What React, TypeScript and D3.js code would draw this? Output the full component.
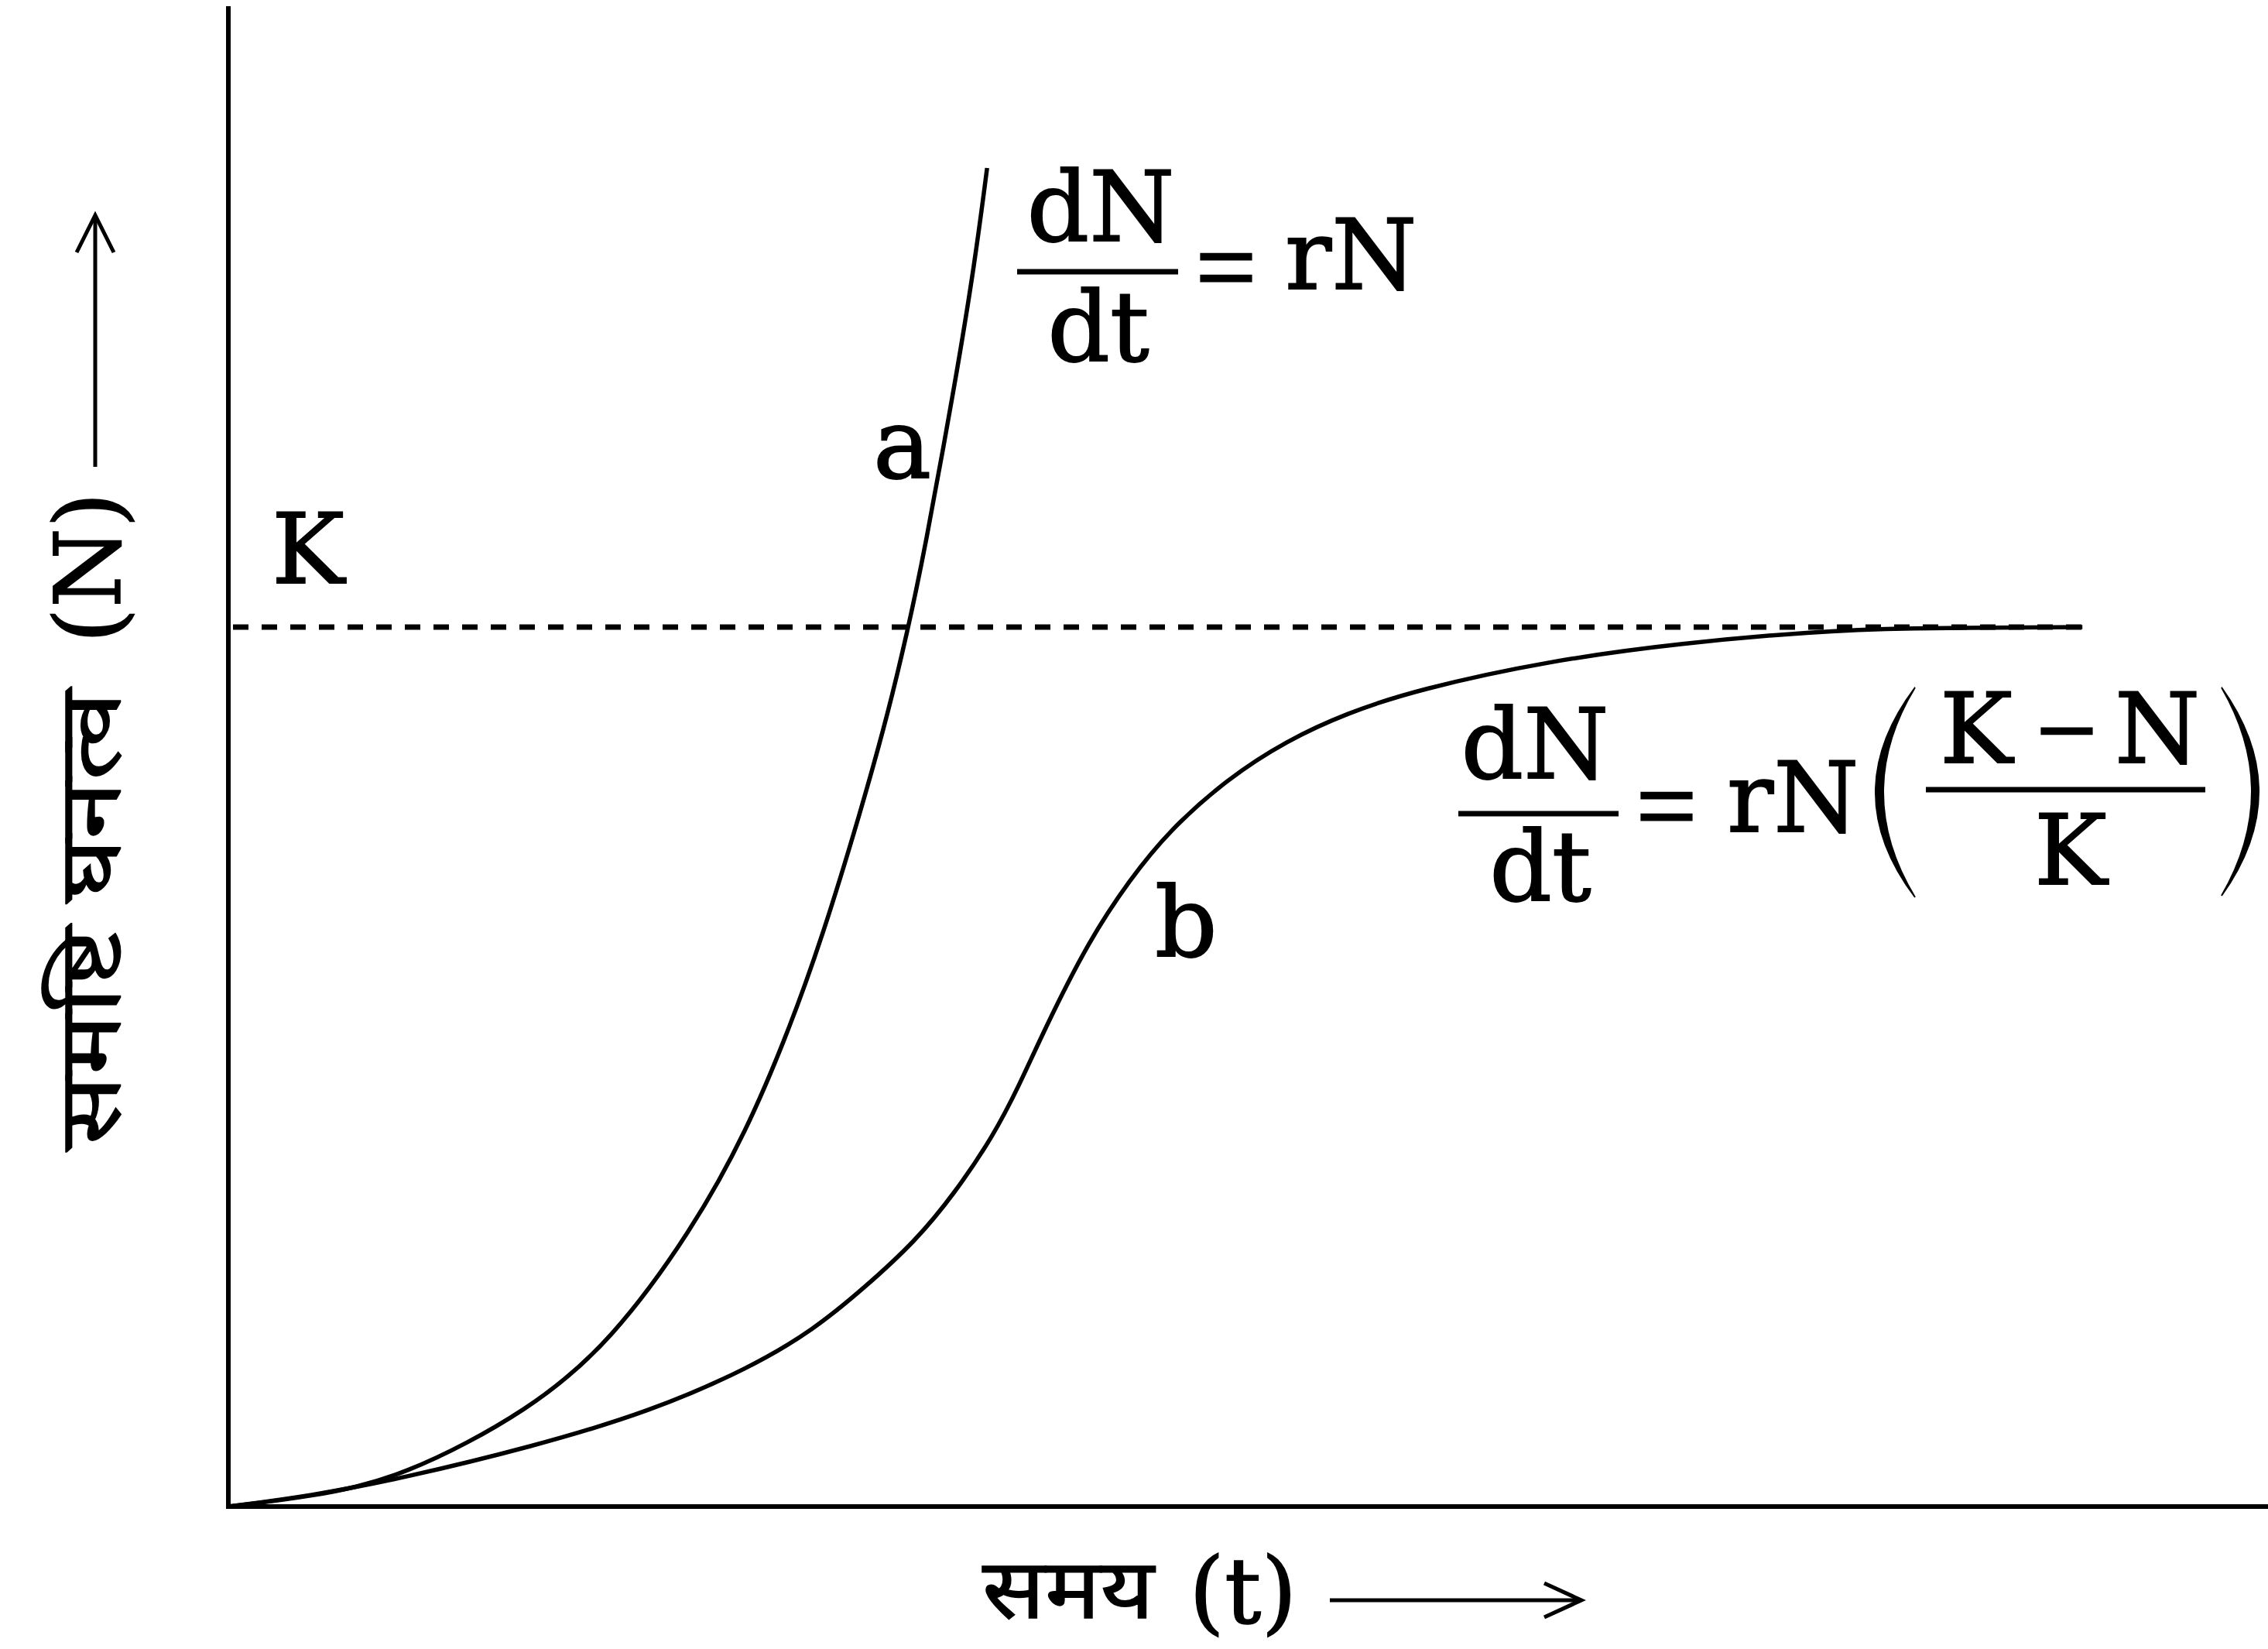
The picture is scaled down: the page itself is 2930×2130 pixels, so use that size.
import React from 'react';
import * as d3 from 'd3';

// population growth curves (t, N), N = 100 at carrying capacity K
const exponentialT = [0, 4.0, 8.5, 14.9, 18.8, 22.7, 25.4, 27.5, 29.1, 31.0, 32.4, 33.3, 34.1, 35.7, 36.6, 37.2];
const exponentialN = [0, 1.1, 3.2, 11.1, 18.9, 31.3, 42.6, 54.3, 64.6, 79.0, 90.7, 99.6, 108.2, 128.6, 141.5, 152.2];

const logisticT = [0, 4.0, 8.5, 14.9, 20.7, 25.6, 28.7, 31.2, 33.7, 35.6, 37.5, 38.8, 40.0, 42.2, 44.2, 46.1, 49.0, 51.9, 54.8, 58.3, 64.8, 71.3, 77.8, 81.8, 90.9];
const logisticN = [0, 1.2, 3.2, 6.8, 10.8, 15.8, 20.1, 24.9, 30.2, 35.6, 42.1, 48.0, 54.2, 64.4, 71.3, 76.8, 82.8, 87.1, 90.2, 92.9, 96.2, 98.2, 99.5, 99.9, 100];

const carryingCapacity = 100;
const tMax = 100;
const nMax = 170.6;

const W = 2930;
const H = 2130;

const yLabelText = 'समष्टि घनत्व';
const xLabelText = 'समय';

const serif = "'DejaVu Serif', serif";
const timesLike = "'Liberation Serif', serif";
const deva = "'Noto Serif Devanagari', 'Noto Sans Devanagari', 'Lohit Devanagari', 'Noto Sans', sans-serif";
const devaBottom = "'DejaVu Sans', 'Noto Sans', sans-serif";

function zip(ts: number[], ns: number[]) {
	return ts.map((t, i) => ({ t, n: ns[i] }));
}

export default function App() {
	const x = d3.scaleLinear().domain([0, tMax]).range([295, 2930]);
	const y = d3.scaleLinear().domain([0, carryingCapacity]).range([1946, 810]);

	const line = d3
		.line<{ t: number; n: number }>()
		.x(d => x(d.t))
		.y(d => y(d.n))
		.curve(d3.curveBasis);

	const curveA = line(zip(exponentialT, exponentialN)) || '';
	const curveB = line(zip(logisticT, logisticN)) || '';
	const kEnd = logisticT[logisticT.length - 1];

	const fs = 126;

	return (
		<div>
			<style>{'body{margin:0;background:#fff}'}</style>
			<svg width={W} height={H} style={{ display: 'block' }}>
				<rect width={W} height={H} fill="#fff" />

				{/* axes */}
				<line x1={x(0)} x2={x(0)} y1={y(nMax)} y2={y(0) + 3} stroke="#000" strokeWidth={6} />
				<line x1={x(0) - 3} x2={x(tMax)} y1={y(0)} y2={y(0)} stroke="#000" strokeWidth={6} />

				{/* carrying capacity */}
				<line
					x1={x(0) + 6}
					x2={x(kEnd)}
					y1={y(carryingCapacity)}
					y2={y(carryingCapacity)}
					stroke="#000"
					strokeWidth={7}
					strokeDasharray="20 17"
				/>

				{/* curves */}
				<path d={curveA} fill="none" stroke="#000" strokeWidth={5.5} />
				<path d={curveB} fill="none" stroke="#000" strokeWidth={5.5} />

				{/* labels */}
				<g fontFamily={serif} fontSize={fs} fill="#000" stroke="#000" strokeWidth={1.8}>
					<text x={351} y={753}>K</text>
					<text x={1128} y={617}>a</text>
					<text x={1492} y={1235}>b</text>

					{/* dN/dt = rN */}
					<text x={1422} y={311} textAnchor="middle">dN</text>
					<text x={1419} y={466} textAnchor="middle">dt</text>
					<text x={1660} y={373}>rN</text>

					{/* dN/dt = rN ((K - N)/K) */}
					<text x={1983} y={1005} textAnchor="middle">dN</text>
					<text x={1990} y={1163} textAnchor="middle">dt</text>
					<text x={2231} y={1074}>rN</text>
					<text x={2553} y={985} textAnchor="middle">K</text>
					<text x={2787} y={985} textAnchor="middle">N</text>
					<text x={2675} y={1142} textAnchor="middle">K</text>
				</g>
				<g fontFamily={timesLike} fontSize={138} fill="#000" stroke="#000" strokeWidth={3} textAnchor="middle">
					<text x={1584} y={392}>=</text>
					<text x={2153} y={1088}>=</text>
					<text x={2670} y={990}>−</text>
				</g>

				{/* fraction bars */}
				<g stroke="#000" strokeWidth={7}>
					<line x1={1314} x2={1522} y1={351} y2={351} />
					<line x1={1884} x2={2091} y1={1051} y2={1051} />
					<line x1={2488} x2={2849} y1={1020} y2={1020} />
				</g>

				{/* big parentheses */}
				<path d="M2474,888 Q2372,1023.5 2474,1159 Q2392,1023.5 2474,888 Z" fill="#000" stroke="#000" strokeWidth={2} />
				<path d="M2870,888 Q2966,1022.5 2870,1157 Q2948,1022.5 2870,888 Z" fill="#000" stroke="#000" strokeWidth={2} />

				{/* y axis title */}
				<g transform="translate(155,1482) rotate(-90)" fill="#000" stroke="#000" strokeWidth={1.5}>
					<text x={0} y={0} fontFamily={deva} fontSize={112} textLength={589} lengthAdjust="spacingAndGlyphs">
						{yLabelText}
					</text>
					<text x={651} y={0} fontFamily={serif} fontSize={118}>(N)</text>
				</g>
				<g stroke="#000" strokeWidth={5} fill="none">
					<line x1={123} x2={123} y1={603} y2={280} />
					<polyline points="99,326 123,278 147,326" />
				</g>

				{/* x axis title */}
				<g fill="#000" stroke="#000" strokeWidth={1.5}>
					<text x={1269} y={2090} fontFamily={devaBottom} fontSize={108} textLength={222} lengthAdjust="spacingAndGlyphs">
						{xLabelText}
					</text>
					<text x={1536} y={2096} fontFamily={serif} fontSize={118}>(t)</text>
				</g>
				<g stroke="#000" strokeWidth={5} fill="none">
					<line x1={1718} x2={2041} y1={2067} y2={2067} />
					<polyline points="1995,2045 2043,2067 1995,2089" />
				</g>
			</svg>
		</div>
	);
}
